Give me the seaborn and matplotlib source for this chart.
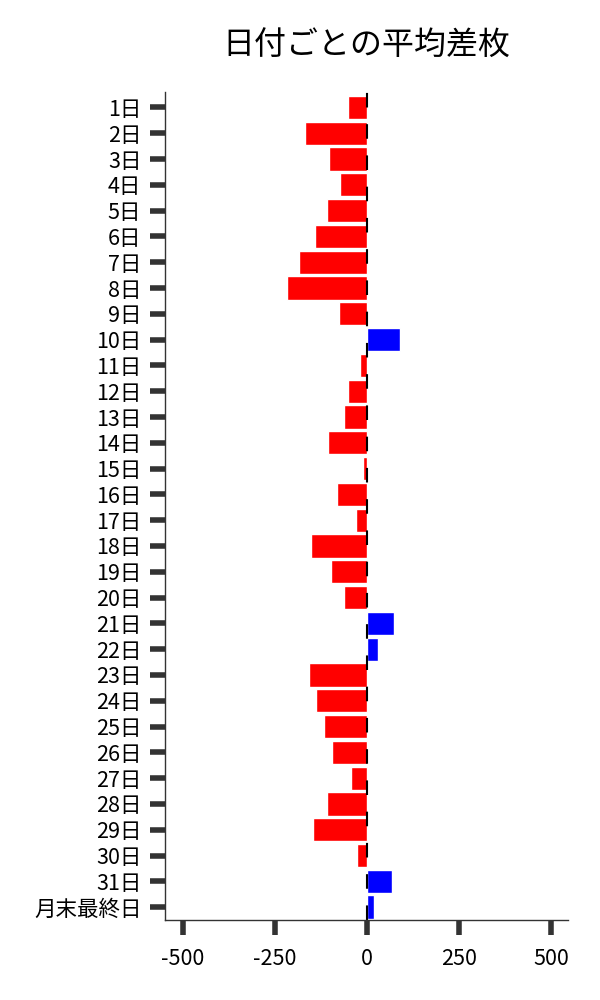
import numpy as np
import pandas as pd
import matplotlib
matplotlib.use("Agg")
import matplotlib.pyplot as plt
import seaborn as sns

days = ["%d日" % d for d in range(1, 32)] + ["月末最終日"]
diffs = [-51, -168, -103, -73, -108, -141, -184, -217, -76, 89,
         -19, -51, -62, -106, -11, -81, -30, -152, -98, -62,
         73, 30, -157, -138, -117, -95, -43, -108, -146, -27,
         68, 19]

df = pd.DataFrame({"day": days, "diff": diffs})
df["sign"] = np.where(df["diff"] >= 0, "plus", "minus")

sns.set_style("ticks")
plt.rcParams['font.family'] = ['Noto Sans CJK JP', 'DejaVu Sans']
plt.rcParams['axes.unicode_minus'] = False
plt.rcParams['text.color'] = 'black'

fig, ax = plt.subplots(figsize=(6, 10), dpi=100)
sns.barplot(data=df, x="diff", y="day", hue="sign",
            palette={"minus": "red", "plus": "blue"},
            dodge=False, legend=False, saturation=1, width=0.9, ax=ax)
ax.axvline(0, color="black", linestyle="--", linewidth=1.5, dashes=(7, 8))

ax.set_xlim(-548, 546)
ax.set_ylim(len(days) - 0.5, -0.6)
ax.set_xticks([-500, -250, 0, 250, 500])
ax.set_xlabel("")
ax.set_ylabel("")
ax.set_title("日付ごとの平均差枚", fontsize=23, pad=27, color="black")
ax.tick_params(axis="both", length=11, width=4, color="#333333",
               labelsize=15.5, pad=6, labelcolor="black")
ax.tick_params(axis="x", pad=9)
sns.despine(ax=ax)
for s in ["left", "bottom"]:
    ax.spines[s].set_color("#333333")
    ax.spines[s].set_linewidth(1)

fig.subplots_adjust(left=0.275, right=0.947, top=0.908, bottom=0.08)
fig.savefig("out.png")
